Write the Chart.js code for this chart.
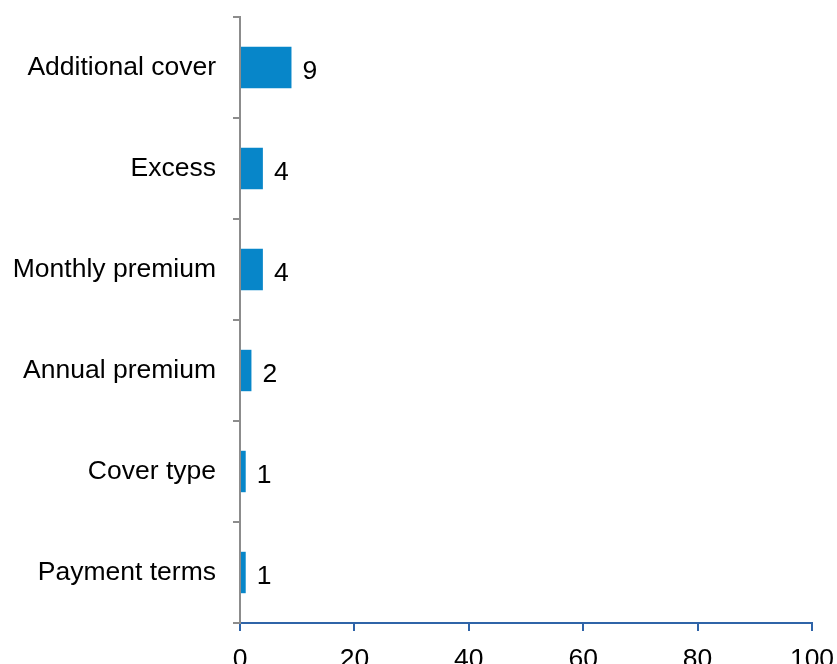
<!DOCTYPE html>
<html>
<head>
<meta charset="utf-8">
<script src="https://cdn.jsdelivr.net/npm/chart.js@4"></script>
<style>
  html, body { margin: 0; padding: 0; background: #fff; overflow: hidden; }
  #wrap { width: 837px; height: 664px; }
</style>
</head>
<body>
<div id="wrap"><canvas id="featureChart" width="837" height="664"></canvas></div>
<script>
// categories, top to bottom
const categories = ['Additional cover', 'Excess', 'Monthly premium', 'Annual premium', 'Cover type', 'Payment terms'];
const mentions = [9, 4, 4, 2, 1, 1];
const xTicks = [0, 20, 40, 60, 80, 100];

const FONT = '"Liberation Sans", Arial, sans-serif';

// writes each bar's value just past its end
const valueLabels = {
    id: 'valueLabels',
    afterDatasetsDraw(chart) {
        const ctx = chart.ctx;
        const meta = chart.getDatasetMeta(0);
        ctx.save();
        ctx.font = '26.5px ' + FONT;
        ctx.fillStyle = '#000';
        ctx.textAlign = 'left';
        ctx.textBaseline = 'middle';
        meta.data.forEach(function (bar, i) {
            ctx.fillText(String(mentions[i]), bar.x + 11, bar.y + 4);
        });
        ctx.restore();
    }
};

document.addEventListener('DOMContentLoaded', function () {
    const ctx = document.getElementById('featureChart');
    new Chart(ctx, {
        type: 'bar',
        data: {
            labels: categories,
            datasets: [{
                data: mentions,
                backgroundColor: '#0786c9',
                borderWidth: 0,
                barPercentage: 0.41,
                categoryPercentage: 1
            }]
        },
        options: {
            indexAxis: 'y',
            responsive: false,
            animation: false,
            layout: { padding: { top: 17, right: 25, left: 0, bottom: 0 } },
            plugins: { legend: { display: false }, tooltip: { enabled: false } },
            scales: {
                x: {
                    min: 0,
                    max: 100,
                    afterBuildTicks: function (scale) {
                        scale.ticks = xTicks.map(function (v) { return { value: v }; });
                    },
                    afterFit: function (scale) {
                        scale.height = 41;
                        scale.paddingLeft = 0;
                        scale.paddingRight = 0;
                    },
                    border: { color: '#2f64a8', width: 2 },
                    grid: { drawOnChartArea: false, drawTicks: true, tickLength: 8, color: '#2f64a8', lineWidth: 2 },
                    ticks: { color: '#000', padding: 13, maxRotation: 0, font: { family: FONT, size: 26.5 } }
                },
                y: {
                    afterFit: function (scale) {
                        scale.width = 240;
                        scale.paddingTop = 0;
                        scale.paddingBottom = 0;
                    },
                    border: { color: '#8c8c8c', width: 2 },
                    grid: { drawOnChartArea: false, drawTicks: true, tickLength: 7, color: '#8c8c8c', lineWidth: 2 },
                    ticks: { color: '#000', padding: 17, font: { family: FONT, size: 26.5 } }
                }
            }
        },
        plugins: [valueLabels]
    });
});
</script>
</body>
</html>
